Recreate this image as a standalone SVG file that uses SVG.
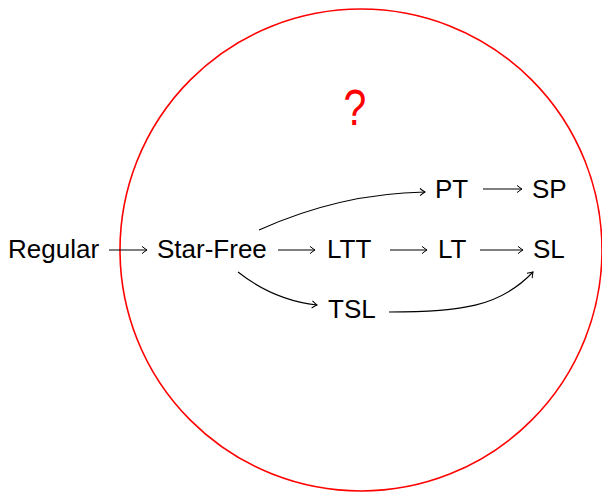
<svg xmlns="http://www.w3.org/2000/svg" width="602" height="492" viewBox="0 0 602 492">
<style>
text.n{font-family:"Liberation Sans",Arial,sans-serif;font-size:26px;fill:#000}
.c{fill:none;stroke:#000;stroke-width:1.1}
</style>
<defs>
<marker id="ah" viewBox="-6 -5 8 10" markerWidth="8" markerHeight="10" refX="0" refY="0" orient="auto" markerUnits="userSpaceOnUse">
<path d="M-5,-3.6 Q-1.5,-0.8 0,0 Q-1.5,0.8 -5,3.6" fill="none" stroke="#000" stroke-width="1"/>
</marker>
</defs>
<rect width="602" height="492" fill="#fff"/>
<circle cx="361" cy="250" r="241" fill="none" stroke="#ff0000" stroke-width="1.6"/>
<text x="355" y="125" text-anchor="middle" font-family="Liberation Sans,Arial,sans-serif" font-size="50" fill="#ff0000" transform="translate(355 0) scale(0.82 1) translate(-355 0)">?</text>
<g id="regular"><text class="n" x="8" y="258">Regular</text></g>
<g id="starfree"><text class="n" x="157" y="258">Star-Free</text></g>
<g id="ltt"><text class="n" x="327" y="258">LTT</text></g>
<g id="lt"><text class="n" x="438" y="258">LT</text></g>
<g id="sl"><text class="n" x="533" y="258">SL</text></g>
<g id="pt"><text class="n" x="435" y="198">PT</text></g>
<g id="sp"><text class="n" x="532" y="198">SP</text></g>
<g id="tsl"><text class="n" x="328" y="318">TSL</text></g>
<g id="connectors">
<path class="c" d="M109,250 H147" marker-end="url(#ah)"/>
<path class="c" d="M278,250 H315" marker-end="url(#ah)"/>
<path class="c" d="M390,250 H427" marker-end="url(#ah)"/>
<path class="c" d="M480,250 H523" marker-end="url(#ah)"/>
<path class="c" d="M483,189 H522" marker-end="url(#ah)"/>
<path class="c" d="M259,230 C310,207 365,193 425,192" marker-end="url(#ah)"/>
<path class="c" d="M238,272 C262,291 290,302 317,305" marker-end="url(#ah)"/>
<path class="c" d="M389,312 C460,312 500,307 533,272" marker-end="url(#ah)"/>
</g>
</svg>
